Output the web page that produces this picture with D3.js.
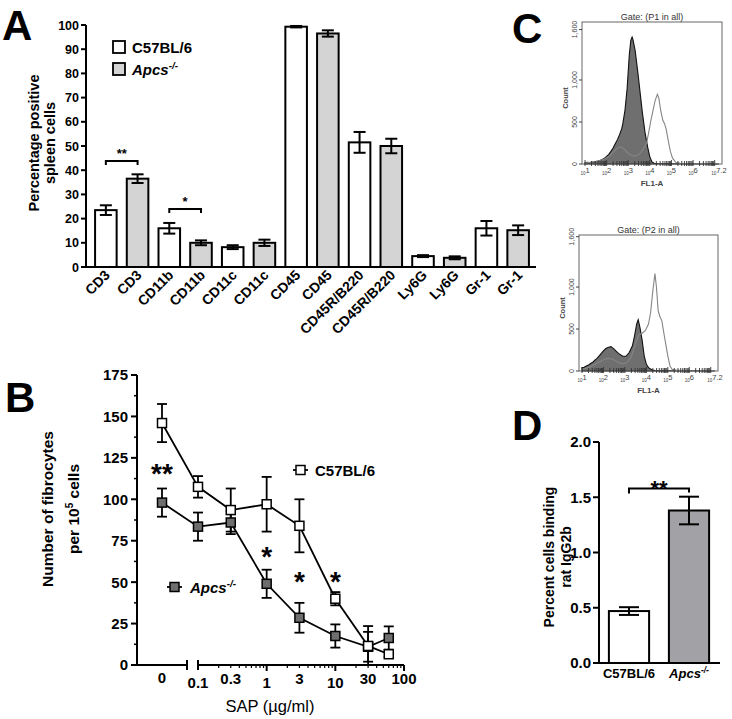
<!DOCTYPE html>
<html><head><meta charset="utf-8">
<script src="https://cdn.jsdelivr.net/npm/d3@7"></script>
<style>body{margin:0;background:#fff} text{font-family:"Liberation Sans",Arial,sans-serif}</style>
</head><body><svg id="c" width="732" height="719" style="background:#fff"></svg>
<script>
// ---------- DATA ----------
// Panel A
const markersA = ["CD3","CD3","CD11b","CD11b","CD11c","CD11c","CD45","CD45","CD45R/B220","CD45R/B220","Ly6G","Ly6G","Gr-1","Gr-1"];
const strainA = ["wt","ko","wt","ko","wt","ko","wt","ko","wt","ko","wt","ko","wt","ko"];
const valuesA = [23.5,36.5,16,10,8.2,10,99.3,96.5,51.5,50,4.5,3.8,16,15.2];
const errorsA = [2,1.8,2.2,1,0.8,1.3,0.3,1.3,4.3,3,0.4,0.6,3,2];
const ticksA = [0,10,20,30,40,50,60,70,80,90,100];
const bracketsA = [{from:0,to:1,level:43.8,label:"**"},{from:2,to:3,level:24,label:"*"}];

// Panel B
const doseB = [0,0.1,0.3,1,3,10,30,60];
const wtB = [146,107.5,93.5,97,84,40,11.5,6.5];
const wtErrB = [11.5,6.5,13,16.5,16,4,12,1.5];
const koB = [98,83.5,86,49,28.5,17.5,11,16.3];
const koErrB = [8.5,8.5,7,8.5,9,7,9,7];
const ticksBy = [0,25,50,75,100,125,150,175];
const ticksBx = [0.1,0.3,1,3,10,30,100];
const starsB = [{dose:0,level:119.5,label:"**"},{dose:1,level:69.4,label:"*"},{dose:3,level:54.3,label:"*"},{dose:10,level:54.3,label:"*"}];

// Panel C histograms  [log10(FL1-A), count]
const p1Filled = [[1.0,15],[1.1,20],[1.2,16],[1.3,24],[1.4,25],[1.5,30],[1.6,35],[1.7,42],[1.8,55],[1.9,70],[2.0,90],[2.1,115],[2.2,150],[2.3,190],[2.4,240],[2.5,290],[2.6,350],[2.7,420],[2.75,480],[2.85,640],[2.95,900],[3.05,1300],[3.12,1470],[3.18,1510],[3.22,1480],[3.32,1350],[3.45,1080],[3.55,850],[3.65,620],[3.78,370],[3.9,200],[4.0,85],[4.1,25],[4.2,8],[4.4,3],[5.0,2],[6.0,1],[7.2,0]];
const p1Open = [[1.0,12],[1.15,18],[1.3,20],[1.45,28],[1.6,35],[1.75,48],[1.9,60],[2.1,90],[2.3,140],[2.5,190],[2.65,205],[2.8,180],[2.95,140],[3.1,110],[3.25,95],[3.4,100],[3.55,130],[3.7,180],[3.85,250],[3.95,380],[4.05,520],[4.15,640],[4.25,760],[4.35,830],[4.42,780],[4.5,640],[4.6,520],[4.68,480],[4.75,420],[4.85,280],[4.95,150],[5.05,70],[5.2,20],[5.4,8],[5.8,4],[6.5,3],[7.2,0]];
const p2Filled = [[1.0,40],[1.1,45],[1.2,60],[1.3,70],[1.4,90],[1.5,105],[1.6,130],[1.7,150],[1.8,180],[1.9,210],[2.0,240],[2.1,265],[2.2,280],[2.35,290],[2.5,260],[2.6,235],[2.7,210],[2.9,175],[3.05,175],[3.2,220],[3.35,300],[3.45,420],[3.55,560],[3.62,610],[3.7,520],[3.8,370],[3.9,180],[4.0,80],[4.1,40],[4.25,15],[4.4,5],[5.0,2],[6.0,1],[7.2,0]];
const p2Open = [[1.0,20],[1.15,30],[1.3,40],[1.45,60],[1.6,80],[1.75,100],[1.9,120],[2.05,140],[2.2,150],[2.45,140],[2.7,100],[2.9,85],[3.1,100],[3.3,170],[3.5,330],[3.65,430],[3.8,450],[3.95,480],[4.1,560],[4.2,700],[4.3,950],[4.4,1160],[4.47,1000],[4.55,720],[4.63,650],[4.72,600],[4.85,400],[5.0,180],[5.1,60],[5.2,20],[5.4,10],[6.0,3],[7.2,0]];
const ticksCy = [0,500,1000,1600];
const ticksCyLabels = ["0","500","1,000","1,600"];
const decadesC = [1,2,3,4,5,6,7.2];

// Panel D
const groupsD = ["C57BL/6","Apcs"];
const valuesD = [0.47,1.38];
const errorsD = [0.035,0.125];
const ticksD = [0,0.5,1,1.5,2];

// ---------- DRAW ----------
const svg = d3.select("#c");

function apcs(sel, size){
  sel.append("tspan").attr("font-style","italic").text("Apcs");
  sel.append("tspan").attr("font-style","italic").attr("font-size",size*0.65).attr("dy",-size*0.4).text("-/-");
}

// panel letters
[["A",2,40],["C",512,43],["B",5,412],["D",512,440]].forEach(([t,x,y])=>{
  svg.append("text").attr("x",x).attr("y",y).attr("font-size",42).attr("font-weight","bold").text(t);
});

// ===== Panel A =====
const gA = svg.append("g");
const yA = d3.scaleLinear().domain([0,100]).range([267,25]);
const xA = d3.scaleBand().domain(d3.range(markersA.length)).range([90,534]).paddingInner(0.32).paddingOuter(0.16);
const colA = {wt:"#ffffff", ko:"#d4d4d4"};
const axA = 86;
gA.append("line").attr("x1",axA).attr("x2",axA).attr("y1",yA(100)).attr("y2",yA(0)).attr("stroke","#000").attr("stroke-width",2);
gA.append("line").attr("x1",axA).attr("x2",536).attr("y1",yA(0)).attr("y2",yA(0)).attr("stroke","#000").attr("stroke-width",2);
ticksA.forEach(t=>{
  gA.append("line").attr("x1",axA-5).attr("x2",axA).attr("y1",yA(t)).attr("y2",yA(t)).attr("stroke","#000").attr("stroke-width",2);
  gA.append("text").attr("x",axA-7).attr("y",yA(t)).attr("dy","0.36em").attr("text-anchor","end").attr("font-size",12.5).attr("font-weight","bold").text(t);
});
markersA.forEach((m,i)=>{
  const x = xA(i), w = xA.bandwidth(), cx = x + w/2;
  gA.append("rect").attr("x",x).attr("y",yA(valuesA[i])).attr("width",w).attr("height",yA(0)-yA(valuesA[i]))
    .attr("fill",colA[strainA[i]]).attr("stroke","#000").attr("stroke-width",2);
  const e1 = yA(valuesA[i]+errorsA[i]), e2 = yA(valuesA[i]-errorsA[i]);
  gA.append("line").attr("x1",cx).attr("x2",cx).attr("y1",e1).attr("y2",e2).attr("stroke","#000").attr("stroke-width",2);
  [e1,e2].forEach(e=>gA.append("line").attr("x1",cx-6).attr("x2",cx+6).attr("y1",e).attr("y2",e).attr("stroke","#000").attr("stroke-width",2));
  gA.append("text").attr("transform",`translate(${cx+5},${yA(0)+9}) rotate(-45)`).attr("text-anchor","end")
    .attr("font-size",14).attr("font-weight","bold").text(m);
});
bracketsA.forEach(b=>{
  const x1 = xA(b.from)+xA.bandwidth()/2, x2 = xA(b.to)+xA.bandwidth()/2, y = yA(b.level);
  gA.append("path").attr("d",`M${x1},${y+4}V${y}H${x2}V${y+4}`).attr("fill","none").attr("stroke","#000").attr("stroke-width",2);
  gA.append("text").attr("x",(x1+x2)/2).attr("y",y-3).attr("text-anchor","middle").attr("font-size",13).attr("font-weight","bold").text(b.label);
});
gA.append("rect").attr("x",113).attr("y",41).attr("width",12).attr("height",12).attr("fill","#fff").attr("stroke","#000").attr("stroke-width",1.8);
gA.append("rect").attr("x",113).attr("y",63).attr("width",12).attr("height",12).attr("fill",colA.ko).attr("stroke","#000").attr("stroke-width",1.8);
gA.append("text").attr("x",132).attr("y",53).attr("font-size",15).attr("font-weight","bold").text("C57BL/6");
apcs(gA.append("text").attr("x",132).attr("y",75).attr("font-size",15).attr("font-weight","bold"),15);
gA.append("text").attr("transform","translate(39,143) rotate(-90)").attr("text-anchor","middle").attr("font-size",14.5).attr("font-weight","bold").text("Percentage positive");
gA.append("text").attr("transform","translate(55,143) rotate(-90)").attr("text-anchor","middle").attr("font-size",14.5).attr("font-weight","bold").text("spleen cells");

// ===== Panel B =====
const gB = svg.append("g");
const yB = d3.scaleLinear().domain([0,175]).range([665,375]);
const xBlog = d3.scaleLog().domain([0.1,100]).range([198,404]);
const x0B = 162;
const xB = d => d===0 ? x0B : xBlog(d);
const axB = 137;
gB.append("line").attr("x1",axB).attr("x2",axB).attr("y1",yB(175)).attr("y2",yB(0)).attr("stroke","#000").attr("stroke-width",2);
ticksBy.forEach(t=>{
  gB.append("line").attr("x1",axB-6).attr("x2",axB).attr("y1",yB(t)).attr("y2",yB(t)).attr("stroke","#000").attr("stroke-width",2);
  gB.append("text").attr("x",axB-9).attr("y",yB(t)).attr("dy","0.36em").attr("text-anchor","end").attr("font-size",15).attr("font-weight","bold").text(t);
});
for(let t=12.5;t<175;t+=25){
  gB.append("line").attr("x1",axB-3).attr("x2",axB).attr("y1",yB(t)).attr("y2",yB(t)).attr("stroke","#000").attr("stroke-width",1.5);
}
// x axis segments
gB.append("line").attr("x1",axB).attr("x2",187).attr("y1",yB(0)).attr("y2",yB(0)).attr("stroke","#000").attr("stroke-width",2);
gB.append("line").attr("x1",187).attr("x2",187).attr("y1",yB(0)-5).attr("y2",yB(0)+5).attr("stroke","#000").attr("stroke-width",2);
gB.append("line").attr("x1",xBlog(0.1)).attr("x2",xBlog(100)).attr("y1",yB(0)).attr("y2",yB(0)).attr("stroke","#000").attr("stroke-width",2);
gB.append("line").attr("x1",xBlog(0.1)).attr("x2",xBlog(0.1)).attr("y1",yB(0)-5).attr("y2",yB(0)+5).attr("stroke","#000").attr("stroke-width",2);
[0.1,1,10].forEach(d=>{ for(let k=2;k<=9;k++){ const v=k*d;
  gB.append("line").attr("x1",xBlog(v)).attr("x2",xBlog(v)).attr("y1",yB(0)).attr("y2",yB(0)+3).attr("stroke","#000").attr("stroke-width",1.2);}});
[1,10,100].forEach(v=>gB.append("line").attr("x1",xBlog(v)).attr("x2",xBlog(v)).attr("y1",yB(0)).attr("y2",yB(0)+6).attr("stroke","#000").attr("stroke-width",2));
gB.append("text").attr("x",x0B).attr("y",683).attr("text-anchor","middle").attr("font-size",15).attr("font-weight","bold").text("0");
ticksBx.forEach((t,i)=>{
  gB.append("text").attr("x",xBlog(t)).attr("y",[0,2,4].includes(i)?688:684).attr("text-anchor","middle").attr("font-size",15).attr("font-weight","bold").text(t);
});
gB.append("text").attr("x",270).attr("y",712).attr("text-anchor","middle").attr("font-size",16.5).text("SAP (\u00b5g/ml)");
gB.append("text").attr("transform","translate(53,509) rotate(-90)").attr("text-anchor","middle").attr("font-size",15.5).attr("font-weight","bold").text("Number of fibrocytes");
const lbl = gB.append("text").attr("transform","translate(79,509) rotate(-90)").attr("text-anchor","middle").attr("font-size",15.5).attr("font-weight","bold");
lbl.append("tspan").text("per 10");
lbl.append("tspan").attr("font-size",10).attr("dy",-6).text("5");
lbl.append("tspan").attr("dy",6).text(" cells");

const line = d3.line().x((d,i)=>xB(doseB[i])).y(d=>yB(d));
function series(vals, errs, fill){
  gB.append("path").attr("d",line(vals)).attr("fill","none").attr("stroke","#000").attr("stroke-width",1.8);
  vals.forEach((v,i)=>{
    const cx = xB(doseB[i]);
    const e1 = yB(v+errs[i]), e2 = yB(Math.max(0,v-errs[i]));
    gB.append("line").attr("x1",cx).attr("x2",cx).attr("y1",e1).attr("y2",e2).attr("stroke","#000").attr("stroke-width",1.8);
    [e1,e2].forEach(e=>gB.append("line").attr("x1",cx-5).attr("x2",cx+5).attr("y1",e).attr("y2",e).attr("stroke","#000").attr("stroke-width",1.8));
  });
  return ()=>vals.forEach((v,i)=>{
    gB.append("rect").attr("x",xB(doseB[i])-4.5).attr("y",yB(v)-4.5).attr("width",9).attr("height",9).attr("fill",fill).attr("stroke","#000").attr("stroke-width",1.5);
  });
}
const mk1 = series(koB, koErrB, "#6e6e6e");
const mk2 = series(wtB, wtErrB, "#fff");
mk1(); mk2();
starsB.forEach(s=>{
  gB.append("text").attr("x",xB(s.dose)).attr("y",yB(s.level)+16).attr("text-anchor","middle").attr("font-size",28).attr("font-weight","bold").text(s.label);
});
// legend B
gB.append("line").attr("x1",293).attr("x2",308).attr("y1",470).attr("y2",470).attr("stroke","#000").attr("stroke-width",1.8);
gB.append("rect").attr("x",296).attr("y",465.5).attr("width",9).attr("height",9).attr("fill","#fff").attr("stroke","#000").attr("stroke-width",1.5);
gB.append("text").attr("x",315).attr("y",476).attr("font-size",15).attr("font-weight","bold").text("C57BL/6");
gB.append("line").attr("x1",167).attr("x2",182).attr("y1",587).attr("y2",587).attr("stroke","#000").attr("stroke-width",1.8);
gB.append("rect").attr("x",170).attr("y",582.5).attr("width",9).attr("height",9).attr("fill","#6e6e6e").attr("stroke","#000").attr("stroke-width",1.5);
apcs(gB.append("text").attr("x",190).attr("y",593).attr("font-size",15).attr("font-weight","bold"),15);

// ===== Panel C =====
function histo(cfg){
  const g = svg.append("g");
  const x = d3.scaleLinear().domain([1,7.2]).range([cfg.x0,cfg.x1]);
  const y = d3.scaleLinear().domain([0,cfg.ymax]).range([cfg.yb,cfg.yt]);
  const area = d3.area().x(d=>x(d[0])).y0(y(0)).y1(d=>y(d[1]));
  const ln = d3.line().x(d=>x(d[0])).y(d=>y(d[1]));
  g.append("path").attr("d",area(cfg.filled)).attr("fill","#6f6f6f").attr("stroke","#111").attr("stroke-width",1.1);
  g.append("path").attr("d",ln(cfg.open)).attr("fill","none").attr("stroke","#858585").attr("stroke-width",1.1);
  g.append("rect").attr("x",x(1)-3).attr("y",cfg.yt).attr("width",cfg.x1-x(1)+6).attr("height",cfg.yb-cfg.yt).attr("fill","none").attr("stroke","#666").attr("stroke-width",1);
  for(let d=1; d<7.2; d++){ for(let k=1;k<=9;k++){ const v=d+Math.log10(k); if(v>7.2) break;
    g.append("line").attr("x1",x(v)).attr("x2",x(v)).attr("y1",cfg.yb-(k===1?4:3)).attr("y2",cfg.yb+2).attr("stroke","#333").attr("stroke-width",0.9);} }
  ticksCy.forEach((t,i)=>{
    g.append("line").attr("x1",x(1)-6).attr("x2",x(1)-3).attr("y1",y(t)).attr("y2",y(t)).attr("stroke","#444");
    g.append("text").attr("transform",`translate(${x(1)-8},${y(t)}) rotate(-90)`).attr("text-anchor","middle").attr("font-size",7).attr("fill","#444").text(ticksCyLabels[i]);
  });
  decadesC.forEach(d=>{
    const t = g.append("text").attr("x",x(d)).attr("y",cfg.yb+11).attr("text-anchor","middle").attr("font-size",7.5).attr("fill","#444");
    t.append("tspan").attr("font-size",4.5).text("10");
    t.append("tspan").attr("dy",-2).text(d);
  });
  g.append("text").attr("x",(x(1)+cfg.x1)/2).attr("y",cfg.yb+22).attr("text-anchor","middle").attr("font-size",8).attr("font-weight","bold").attr("fill","#444").text("FL1-A");
  g.append("text").attr("transform",`translate(${x(1)-17},${(cfg.yt+cfg.yb)/2+5}) rotate(-90)`).attr("text-anchor","middle").attr("font-size",7.5).attr("font-weight","bold").attr("fill","#444").text("Count");
  g.append("text").attr("x",(x(1)+cfg.x1)/2).attr("y",cfg.yt-2).attr("text-anchor","middle").attr("font-size",9).attr("fill","#333").text(cfg.title);
}
histo({x0:585,x1:719,yt:22,yb:164,ymax:1690,filled:p1Filled,open:p1Open,title:"Gate: (P1 in all)"});
histo({x0:582,x1:715,yt:235,yb:371,ymax:1620,filled:p2Filled,open:p2Open,title:"Gate: (P2 in all)"});

// ===== Panel D =====
const gD = svg.append("g");
const yD = d3.scaleLinear().domain([0,2]).range([663,442]);
const xD = d3.scaleBand().domain(groupsD).range([599,719]).paddingInner(0.33).paddingOuter(0.165);
const axD = 599;
gD.append("line").attr("x1",axD).attr("x2",axD).attr("y1",yD(2)).attr("y2",yD(0)).attr("stroke","#000").attr("stroke-width",2);
gD.append("line").attr("x1",axD).attr("x2",720).attr("y1",yD(0)).attr("y2",yD(0)).attr("stroke","#000").attr("stroke-width",2);
ticksD.forEach(t=>{
  gD.append("line").attr("x1",axD-6).attr("x2",axD).attr("y1",yD(t)).attr("y2",yD(t)).attr("stroke","#000").attr("stroke-width",2);
  gD.append("text").attr("x",axD-8).attr("y",yD(t)).attr("dy","0.36em").attr("text-anchor","end").attr("font-size",15).attr("font-weight","bold").text(d3.format(".1f")(t));
});
groupsD.forEach((g,i)=>{
  const x = xD(g), w = xD.bandwidth(), cx = x+w/2;
  gD.append("rect").attr("x",x).attr("y",yD(valuesD[i])).attr("width",w).attr("height",yD(0)-yD(valuesD[i]))
    .attr("fill",i===0?"#fff":"#a2a2a6").attr("stroke","#000").attr("stroke-width",2);
  const e1 = yD(valuesD[i]+errorsD[i]), e2 = yD(valuesD[i]-errorsD[i]);
  gD.append("line").attr("x1",cx).attr("x2",cx).attr("y1",e1).attr("y2",e2).attr("stroke","#000").attr("stroke-width",2);
  [e1,e2].forEach(e=>gD.append("line").attr("x1",cx-10).attr("x2",cx+10).attr("y1",e).attr("y2",e).attr("stroke","#000").attr("stroke-width",2));
  const t = gD.append("text").attr("x",cx).attr("y",678).attr("text-anchor","middle").attr("font-size",13).attr("font-weight","bold");
  if(i===0) t.text(g); else apcs(t,13);
});
{
  const x1 = xD(groupsD[0])+xD.bandwidth()/2, x2 = xD(groupsD[1])+xD.bandwidth()/2, y = yD(1.58);
  gD.append("path").attr("d",`M${x1},${y+5}V${y}H${x2}V${y+4}`).attr("fill","none").attr("stroke","#000").attr("stroke-width",2);
  gD.append("text").attr("x",(x1+x2)/2).attr("y",y+8).attr("text-anchor","middle").attr("font-size",22).attr("font-weight","bold").text("**");
}
gD.append("text").attr("transform","translate(554,557) rotate(-90)").attr("text-anchor","middle").attr("font-size",14).attr("font-weight","bold").text("Percent cells binding");
gD.append("text").attr("transform","translate(571,557) rotate(-90)").attr("text-anchor","middle").attr("font-size",14).attr("font-weight","bold").text("rat IgG2b");
</script></body></html>
